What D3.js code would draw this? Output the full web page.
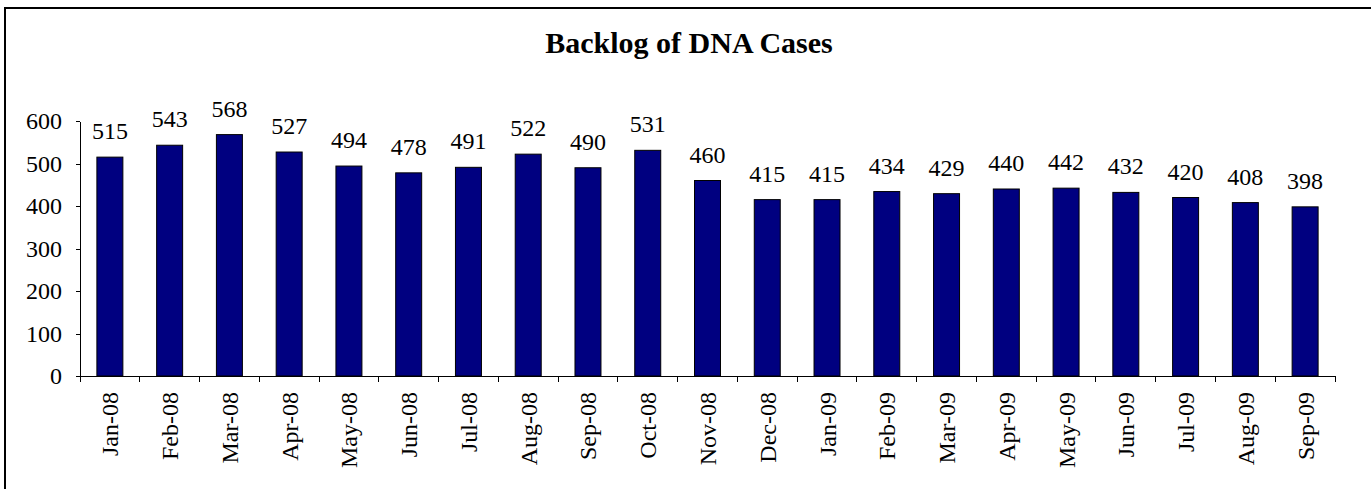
<!DOCTYPE html>
<html>
<head>
<meta charset="utf-8">
<script src="https://cdn.jsdelivr.net/npm/d3@7"></script>
<style>
  body { margin: 0; background: #fff; }
  svg { display: block; }
  text { font-family: "Liberation Serif", "Times New Roman", serif; fill: #000; }
</style>
</head>
<body>
<svg width="1371" height="489"></svg>
<script>
const months = ['Jan-08','Feb-08','Mar-08','Apr-08','May-08','Jun-08','Jul-08','Aug-08','Sep-08','Oct-08','Nov-08','Dec-08',
                'Jan-09','Feb-09','Mar-09','Apr-09','May-09','Jun-09','Jul-09','Aug-09','Sep-09'];
const backlog = [515,543,568,527,494,478,491,522,490,531,460,415,415,434,429,440,442,432,420,408,398];
const yTicks = [0,100,200,300,400,500,600];

const svg = d3.select('svg');

// outer frame (only left/top visible in the shot)
svg.append('rect')
  .attr('x', 5).attr('y', 8)
  .attr('width', 1400).attr('height', 500)
  .attr('fill', 'none').attr('stroke', '#000').attr('stroke-width', 2);

svg.append('text')
  .attr('x', 689).attr('y', 53)
  .attr('text-anchor', 'middle')
  .style('font-size', '30px').style('font-weight', 'bold')
  .text('Backlog of DNA Cases');

const xScale = d3.scaleBand().domain(months).range([80, 1335]).padding(0);
const yScale = d3.scaleLinear().domain([0, 600]).range([376, 121]);
const barW = xScale.bandwidth() / 2.3;

// y axis
const yAxis = svg.append('g')
  .attr('transform', 'translate(80,0)')
  .call(d3.axisLeft(yScale).tickValues(yTicks).tickSize(4).tickSizeOuter(0).tickPadding(14));
yAxis.selectAll('path, line').attr('stroke', '#000').attr('shape-rendering', 'crispEdges');
yAxis.selectAll('text').style('font-size', '24px').style('font-family', '"Liberation Serif", serif');

// x axis: line plus ticks on category boundaries
const xAxis = svg.append('g').attr('transform', `translate(0,${yScale(0)})`);
xAxis.call(d3.axisBottom(xScale).tickSize(0).tickFormat(''));
xAxis.select('.domain').attr('stroke', '#000').attr('shape-rendering', 'crispEdges');
xAxis.selectAll('.tick').remove();
xAxis.selectAll('line.bnd')
  .data(months.concat(['end']))
  .enter().append('line')
  .attr('class', 'bnd')
  .attr('x1', (d, i) => xScale.range()[0] + i * xScale.step())
  .attr('x2', (d, i) => xScale.range()[0] + i * xScale.step())
  .attr('y1', 0).attr('y2', 6)
  .attr('stroke', '#000').attr('shape-rendering', 'crispEdges');

// category labels
svg.selectAll('text.cat')
  .data(months)
  .enter().append('text')
  .attr('class', 'cat')
  .attr('transform', d => `translate(${xScale(d) + xScale.bandwidth() / 2 + 8.5},392) rotate(-90)`)
  .attr('text-anchor', 'end')
  .style('font-size', '24px')
  .text(d => d);

// bars
svg.selectAll('rect.bar')
  .data(backlog)
  .enter().append('rect')
  .attr('class', 'bar')
  .attr('x', (d, i) => xScale(months[i]) + (xScale.bandwidth() - barW) / 2)
  .attr('y', d => yScale(d))
  .attr('width', barW)
  .attr('height', d => yScale(0) - yScale(d))
  .attr('fill', '#000080')
  .attr('stroke', '#000')
  .attr('stroke-width', 1);

// value labels
svg.selectAll('text.val')
  .data(backlog)
  .enter().append('text')
  .attr('class', 'val')
  .attr('x', (d, i) => xScale(months[i]) + xScale.bandwidth() / 2)
  .attr('y', d => yScale(d) - 18)
  .attr('text-anchor', 'middle')
  .style('font-size', '24px')
  .text(d => d);
</script>
</body>
</html>
